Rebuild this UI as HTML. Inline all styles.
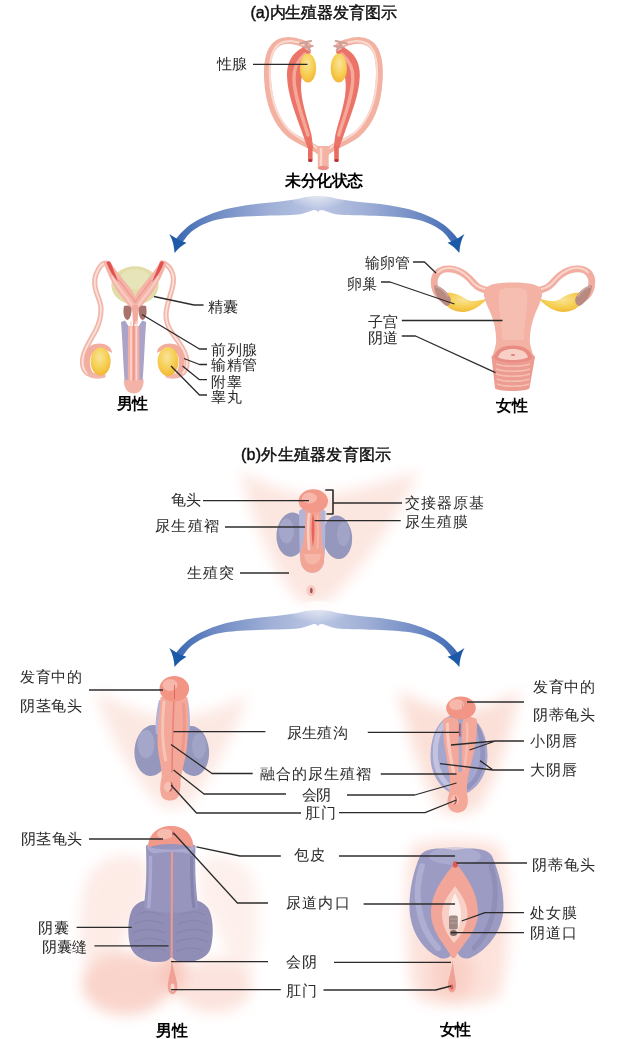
<!DOCTYPE html>
<html lang="zh">
<head>
<meta charset="utf-8">
<title>生殖器发育图示</title>
<style>
html,body{margin:0;padding:0;background:#fff;}
body{width:627px;height:1039px;overflow:hidden;font-family:"Liberation Sans",sans-serif;}
svg{display:block;}
text{font-family:"Liberation Sans",sans-serif;fill:#222;filter:url(#tx);}
.lb{font-size:14.5px;font-weight:300;fill:#2a2a2a;}
.tt{font-size:16px;font-weight:400;fill:#111;stroke:#111;stroke-width:0.45px;}
.bd{font-size:15.5px;font-weight:700;fill:#000;}
.ln{stroke:#2b2b2b;stroke-width:1.3;filter:url(#tx);fill:none;stroke-linejoin:round;}
</style>
</head>
<body>
<svg width="627" height="1039" viewBox="0 0 627 1039">
<defs>
  <filter id="soft" x="-5%" y="-5%" width="110%" height="110%"><feGaussianBlur stdDeviation="0.75"/></filter>
  <filter id="tx" filterUnits="userSpaceOnUse" x="0" y="0" width="627" height="1039"><feGaussianBlur stdDeviation="0.28"/></filter>
  <filter id="soft2" x="-10%" y="-10%" width="120%" height="120%"><feGaussianBlur stdDeviation="1.2"/></filter>
  <filter id="skin" x="-20%" y="-20%" width="140%" height="140%"><feGaussianBlur stdDeviation="7"/></filter>
  <radialGradient id="gYellow" cx="45%" cy="35%" r="65%">
    <stop offset="0" stop-color="#f9e39a"/><stop offset="0.6" stop-color="#f6cf52"/><stop offset="1" stop-color="#f2b838"/>
  </radialGradient>
  <linearGradient id="gArmL" x1="1" y1="0" x2="0" y2="0">
    <stop offset="0" stop-color="#bcc7e4"/><stop offset="0.35" stop-color="#9fafd6"/><stop offset="0.75" stop-color="#6b88c3"/><stop offset="1" stop-color="#3a68b2"/>
  </linearGradient>
  <linearGradient id="gArmR" x1="0" y1="0" x2="1" y2="0">
    <stop offset="0" stop-color="#d5dcee"/><stop offset="0.35" stop-color="#a9b8da"/><stop offset="0.8" stop-color="#6f8cc6"/><stop offset="1" stop-color="#3f6fb8"/>
  </linearGradient>
  <linearGradient id="gBump" x1="0" y1="0" x2="0" y2="1">
    <stop offset="0" stop-color="#ffffff"/><stop offset="0.45" stop-color="#dfe4f2"/><stop offset="1" stop-color="#a9b8da"/>
  </linearGradient>
  <!-- reusable brace arm (left), centre x=318 -->
  <radialGradient id="gFade" cx="0.5" cy="0.1" r="0.75">
    <stop offset="0" stop-color="#ffffff" stop-opacity="0.8"/><stop offset="0.45" stop-color="#ffffff" stop-opacity="0.45"/><stop offset="1" stop-color="#ffffff" stop-opacity="0"/>
  </radialGradient>
  <g id="arm">
    <path d="M319,196 C309,196 304,197 300,198.5 C288,201 276,202 265,203 C258,203.7 251,204.5 244.7,205.4 C239,206.3 234,207.3 228.8,208.6 C223,210 218,211.5 212.8,213.3 C207,215.5 202,217.7 196.9,220.5 C192.5,223 189,225.5 185.7,228.5 C182.5,231.3 179.5,234.5 176,239 L181.5,244 C184,240 186.5,236.5 189.5,233.5 C192.5,230.5 196,228.2 200,226 C204,223.9 208,222.3 212.8,220.8 C218,219.3 223,218.5 228.8,217.8 C234,217.2 239,216.8 244.7,216.5 C251,216.1 258,215.9 265,215.7 C277,215.5 290,215.3 298,214.5 C304,213.5 309,211.5 313,210.2 C315,209.8 317,210.6 319,212 Z" fill="url(#gArmL)"/>
    <path d="M169.3,234 C175,238 180.5,240.8 186.5,242.8 C181.8,245.6 178,248.8 174.5,253 C174.2,246 172.8,240 169.3,234 Z" fill="#1c5aa8"/>
  </g>
  <g id="braceArrow">
    <use href="#arm"/>
    <use href="#arm" transform="translate(318,0) scale(-0.985,1) translate(-318,0)"/>
    <ellipse cx="318" cy="200" rx="26" ry="13" fill="url(#gFade)"/>
  </g>
</defs>
<rect x="0" y="0" width="627" height="1039" fill="#ffffff"/>

<!-- ================= (a) undifferentiated internal ================= -->
<g id="undiffA" filter="url(#soft)">
  <g id="ductL">
    <!-- Mullerian (outer, pale) -->
    <path d="M308,46 C300,41.5 287,38 279,42.5 C269.5,47.5 266.5,61 267.5,79 C268.5,100 275,121 289.5,134 C299,141.5 311,145 319,151" fill="none" stroke="#f2b1a1" stroke-width="6.8" stroke-linecap="round"/>
    <path d="M305,45 C298,41.5 287,39 280,43.5 C271.5,48.5 269,62 270,79 C271,99 277.5,119 291,132 C299.5,139 310,143 317,148" fill="none" stroke="#f9d9d0" stroke-width="2.2" stroke-linecap="round"/>
    <!-- top fringe -->
    <path d="M300,43.5 L311,41 M303,47.5 L312.5,46 M305.5,44.5 L310,50.5 M307.5,42 L304,49.5" stroke="#cf9f98" stroke-width="2.2" stroke-linecap="round" fill="none"/>
    <!-- Wolffian (inner, red) -->
    <path d="M303,47.5 C293,52 286.5,62 287,76 C287.5,95 296,115 303,135 L307.5,148 L313.2,148 L311.5,135 C307,117 300.5,100 301,84 C302,70 306,59 311,52 Z" fill="#ec7367"/>
    <path d="M305,54 C298,60 293.5,68 294,79 C294.5,97 302,115 308,135" fill="none" stroke="#f5a898" stroke-width="3.4" stroke-linecap="round"/>
    <!-- small tube -->
    <path d="M310.3,146 L310.3,160" stroke="#ea6c60" stroke-width="4.6" stroke-linecap="butt"/>
    <ellipse cx="310.3" cy="160.5" rx="2.3" ry="1.5" fill="#b82c34"/>
    <!-- gonad -->
    <ellipse cx="308" cy="68" rx="8.2" ry="14.6" fill="url(#gYellow)"/>
  </g>
  <use href="#ductL" transform="translate(646.8,0) scale(-1,1)"/>
  <!-- stem -->
  <path d="M316.5,146 C318,150 318,160 317.8,168 L328.8,168 C328.6,160 328.6,150 330.2,146 Z" fill="#f4b4a4"/>
  <path d="M321,149 L321,166" stroke="#fad7cd" stroke-width="2.4" stroke-linecap="round"/>
  <ellipse cx="323.3" cy="168" rx="5.5" ry="2.2" fill="#e98f86"/>
</g>

<g filter="url(#soft)">
  <use href="#braceArrow"/>
</g>
<g class="ln"><path d="M253,64.3 L307.5,64.3"/></g>
<text class="tt" x="250.5" y="17.5" textLength="146" lengthAdjust="spacing">(a)内生殖器发育图示</text>
<text class="lb" x="217" y="68.5" textLength="29.5" lengthAdjust="spacing">性腺</text>
<text class="bd" x="285" y="186" textLength="78" lengthAdjust="spacing">未分化状态</text>

<!-- ================= (a) male internal ================= -->
<g id="maleA" filter="url(#soft)">
  <!-- vas deferens left -->
  <path id="vasL" d="M106,263 C103,263 100,266 98,270 C94,277 94,283 95.5,289 C97.5,297 101,302 101,309 C101,318 99,324 96,330 C92,338 86,346 83.5,355 C81.5,363 82.5,370 88,373.5 C92,376 98,376.5 103,375.5" fill="none" stroke="#f2b6aa" stroke-width="5.2" stroke-linecap="round"/>
  <path d="M106,263 C103,263 100,266 98,270 C94,277 94,283 95.5,289 C97.5,297 101,302 101,309 C101,318 99,324 96,330 C92,338 86,346 83.5,355 C81.5,363 82.5,370 88,373.5" fill="none" stroke="#fae0d9" stroke-width="1.8" stroke-linecap="round"/>
  <!-- vas deferens right -->
  <path d="M162,263 C166,264 169,266 171,270 C174,275 174,282 172,289 C170,297 166.5,305 166,314 C165.5,323 169,329 173.5,335 C178,341 183.5,348 186,356 C188,363 187.5,369 183,373 C179,376 173,376.5 168,375.5" fill="none" stroke="#f2b6aa" stroke-width="5.2" stroke-linecap="round"/>
  <path d="M162,263 C166,264 169,266 171,270 C174,275 174,282 172,289 C170,297 166.5,305 166,314 C165.5,323 169,329 173.5,335 C178,341 183.5,348 186,356 C188,363 187.5,369 183,373" fill="none" stroke="#fae0d9" stroke-width="1.8" stroke-linecap="round"/>
  <!-- epididymis -->
  <path d="M86,352 C88,345 96,342 104,344 C109,345.5 112,349 112,353 C106,349 97,349 92,354 C89,358 89,367 93,373 L88,374 C84,368 84,358 86,352 Z" fill="#f3ada0"/>
  <path d="M183,352 C181,345 173,342 165,344 C160,345.5 157,349 157,353 C163,349 172,349 177,354 C180,358 180,367 176,373 L181,374 C185,368 185,358 183,352 Z" fill="#f3ada0"/>
  <!-- testes -->
  <ellipse cx="100.6" cy="361.5" rx="10" ry="14" fill="url(#gYellow)"/>
  <ellipse cx="168" cy="361.5" rx="10.4" ry="14.4" fill="url(#gYellow)"/>
  <!-- bladder -->
  <ellipse cx="135" cy="285.4" rx="23.6" ry="19.2" fill="#e2dca8"/>
  <ellipse cx="135" cy="279" rx="15" ry="10" fill="#e9e6bd" opacity="0.8"/>
  <!-- seminal vesicles / ampulla (pink wings) -->
  <path d="M103.5,262 C106,260 109.5,260.5 111,263 C116,271 122,278 127,284 C131,289 134,293 135.3,297 C136.6,293 139.6,289 143.6,284 C148.6,278 154.6,271 159.6,263 C161,260.5 164.5,260 167,262 C164,272 158,284 152,293 C147,300 141,306 137.5,312 L133,312 C129.5,306 123.5,300 118.5,293 C112.5,284 106.5,272 103.5,262 Z" fill="#f4b4a9"/>
  <path d="M112,276 C116,284 122,292 127,298 C130,302 133,306 135.3,310 C137.6,306 140.6,302 143.6,298 C148.6,292 154.6,284 158.6,276" stroke="#f8cdc5" stroke-width="2.4" fill="none" opacity="0.9"/>
  <path d="M119,280 C124,287 130,294 135.3,302 C140.6,294 146.6,287 151.6,280" stroke="#ee9085" stroke-width="1.4" fill="none" opacity="0.7"/>
  <!-- red tops -->
  <path d="M106.5,262.5 C108,260.5 110,261 111,263.5 C113.5,270 116,276 118.5,282 C113.5,277 109,270 106.5,262.5 Z" fill="#e2514d"/>
  <path d="M164,262.5 C162.5,260.5 160.5,261 159.5,263.5 C157,270 154.5,276 152,282 C157,277 161.5,270 164,262.5 Z" fill="#e2514d"/>
  <!-- prostate -->
  <path d="M124,306 C128,304.5 131.5,306 131.5,310 C131.5,315 130,319 127.5,320 C124,319 122.5,313 124,306 Z" fill="#a8736c"/>
  <path d="M146,306 C142,304.5 138.5,306 138.5,310 C138.5,315 140,319 142.5,320 C146,319 147.5,313 146,306 Z" fill="#a8736c"/>
  <path d="M132,305 L138.5,305 L137.5,324 L133,324 Z" fill="#f3ab9f"/>
  <!-- penis -->
  <path d="M121,322 L125,320.5 L129,327 L129.5,380 L124.5,380 C123,360 122.5,340 121,322 Z" fill="#aba4c8"/>
  <path d="M146.2,322 L142.2,320.5 L138.2,327 L137.7,380 L142.7,380 C144.2,360 144.7,340 146.2,322 Z" fill="#aba4c8"/>
  <path d="M128,326 L139.2,326 L139.5,381 L127.7,381 Z" fill="#f3aea3"/>
  <path d="M131,322 L131,386 M136.4,322 L136.4,386" stroke="#fad8d1" stroke-width="1.6" stroke-linecap="round"/>
  <path d="M133.7,324 L133.7,388" stroke="#ee958a" stroke-width="1.4" stroke-linecap="round"/>
  <path d="M124,379 C123.5,384 125,389 128,391.5 C131,394 136.5,394 139.5,391.5 C142.5,389 144,384 143.5,379 C138,381 129.5,381 124,379 Z" fill="#f4b3a8"/>
</g>
<g class="ln">
  <path d="M154,296.5 L194,305 L203.5,305"/>
  <path d="M142,314.5 L199.5,349 L207,349"/>
  <path d="M184,358.5 L199.5,364.5 L207,364.5"/>
  <path d="M182.5,366 L199.5,379.7 L207,379.7"/>
  <path d="M171,366 L199.5,395 L207,395"/>
</g>
<text class="lb" x="207.5" y="311.5" textLength="30.5" lengthAdjust="spacing">精囊</text>
<text class="lb" x="211" y="355" textLength="46" lengthAdjust="spacing">前列腺</text>
<text class="lb" x="211" y="370.3" textLength="46" lengthAdjust="spacing">输精管</text>
<text class="lb" x="211" y="386.5" textLength="30.5" lengthAdjust="spacing">附睾</text>
<text class="lb" x="211" y="402" textLength="30.5" lengthAdjust="spacing">睾丸</text>
<text class="bd" x="117" y="409.3" textLength="31" lengthAdjust="spacing">男性</text>

<!-- ================= (a) female internal ================= -->
<g id="femaleA" filter="url(#soft)">
  <g id="tubeL">
    <!-- ovary -->
    <path d="M446,293 C452,292 460,295 466,299 C471,302 478,301.5 487,298.5 C483,304 476,309 469,311 C461,313.5 452,311 447,306 C445,302 445,297 446,293 Z" fill="url(#gYellow)"/>
    <!-- tube -->
    <path d="M489,290.5 C483,290 478,288 474,283.5 C470,278.5 464,272.5 456,270 C449,268 441,268.5 437,273.5 C433.5,278 433.5,285 436,291 C437.5,294.5 439.5,296.5 442,298" fill="none" stroke="#f2ada0" stroke-width="7" stroke-linecap="round"/>
    <path d="M488,289.5 C482,289 477,287 473,282.5 C469,277.5 463,271.5 455.5,269 C449,267 441.5,268 438,272.5" fill="none" stroke="#f9d5cc" stroke-width="2" stroke-linecap="round"/>
    <!-- fimbria brown -->
    <path d="M434,286 C437,284 446,290 450,297 C452,301 450,306 446.5,306 C441,303 435,296 434,286 Z" fill="#b98a82"/>
    <path d="M436,287 C439,286.5 445,291 448,296" stroke="#d3a69d" stroke-width="1.6" fill="none" stroke-linecap="round"/>
  </g>
  <use href="#tubeL" transform="translate(1026,0) scale(-1,1)"/>
  <!-- uterus -->
  <path d="M484,291 C486,284.5 496,282.5 513,282.5 C530,282.5 540,284.5 542,291 C543,297 539,305 535.5,313 C532,321 530,330 529.8,340 C529.8,346 532,351 534,357 L492,357 C494,351 496.2,346 496.2,340 C496,330 494,321 490.5,313 C487,305 483,297 484,291 Z" fill="#f4b2a4"/>
  <path d="M500,290 C506,287 520,287 526,290 C530,300 524,320 524,340 L502,340 C502,320 496,300 500,290 Z" fill="#f8c9be" opacity="0.5"/>
  <!-- vagina -->
  <path d="M491.5,357 C491.5,351 535,351 535,357 L529.5,388 C529.5,392 495,392 495,388 Z" fill="#ec9c90"/>
  <path d="M496,364 C505,367 521,367 530,364 M496,369 C505,372 521,372 530,369 M496,374 C505,377 521,377 530,374 M496.5,379 C505,382 521,382 529.5,379 M497,384 C505,387 521,387 529,384" stroke="#f6bfb4" stroke-width="1.4" fill="none"/>
  <!-- cervix -->
  <path d="M494,358 C495,349 503,345.5 513,345.5 C523,345.5 531,349 532,358 C528,364 498,364 494,358 Z" fill="#e88c84"/>
  <path d="M498,357 C500,351 506,349 513,349 C520,349 526,351 528,357 C524,361 502,361 498,357 Z" fill="#f9d0c6"/>
  <ellipse cx="513" cy="355" rx="2.2" ry="1.1" fill="#d88078"/>
</g>
<g class="ln">
  <path d="M413,262 L424.5,262 L436,273"/>
  <path d="M381,282 L390,282 L454.5,304"/>
  <path d="M401.8,320.5 L502.5,320.5"/>
  <path d="M401.8,336 L415.5,336 L495.5,372.7"/>
</g>
<text class="lb" x="365" y="268" textLength="44.5" lengthAdjust="spacing">输卵管</text>
<text class="lb" x="347" y="288.5" textLength="30" lengthAdjust="spacing">卵巢</text>
<text class="lb" x="367.5" y="326.5" textLength="30" lengthAdjust="spacing">子宫</text>
<text class="lb" x="367.5" y="342.5" textLength="30" lengthAdjust="spacing">阴道</text>
<text class="bd" x="496" y="410.5" textLength="31.5" lengthAdjust="spacing">女性</text>

<!-- ================= (b) undifferentiated external ================= -->
<g filter="url(#skin)">
  <path d="M240,470 C262,484 290,494 313,496 C340,494 384,484 418,470 C400,520 356,575 332,598 C324,606 304,606 297,598 C275,575 252,520 240,470 Z" fill="#fce6e0"/>
</g>
<g id="undiffB" filter="url(#soft)">
  <!-- swellings -->
  <ellipse cx="291.5" cy="534.6" rx="15" ry="22.2" fill="#9597bd" transform="rotate(5 291.5 534.6)"/>
  <ellipse cx="337.5" cy="537.3" rx="14.6" ry="21.8" fill="#9597bd" transform="rotate(-5 337.5 537.3)"/>
  <ellipse cx="286.5" cy="531" rx="7.5" ry="12.5" fill="#b0b2d2" opacity="0.6"/>
  <ellipse cx="343.5" cy="534" rx="6.5" ry="12" fill="#adafd0" opacity="0.55"/>
  <g>
  <!-- folds -->
  <path d="M299,512 C299,506 325.5,506 325.5,512 L325,548 C325,552 324.5,556 324,560 C323.5,577 301.5,577 300.5,560 C300,556 299.5,552 299.5,548 Z" fill="#b4b5d6"/>
  <path d="M306,508 L320.5,508 C321,520 321.3,535 322.3,545 C324.2,550 324.3,556 324,560 C323.5,577 301.5,577 300.5,560 C300.2,556 300.3,550 302.7,545 C304.8,535 305.5,520 306,508 Z" fill="#f3a495"/>
  <path d="M309,514 C307.8,524 308,538 309,549" stroke="#f9d0c6" stroke-width="2.6" fill="none" stroke-linecap="round"/>
  <path d="M313,513 C311,523 311.3,537 313,547 C314.8,537 315.2,523 313,513 Z" fill="#e6645b"/>
  <path d="M317.5,516 C318.3,526 318.3,538 317.5,548" stroke="#f6b6aa" stroke-width="1.8" fill="none" stroke-linecap="round"/>
  <path d="M304,554 C305,568 320,568 321,554 Z" fill="#f6bbae" opacity="0.8"/>
  <!-- glans -->
  <ellipse cx="313.3" cy="501" rx="14.7" ry="11.8" fill="#f2998a"/>
  <ellipse cx="309.5" cy="498" rx="7.5" ry="5.4" fill="#f8bdb0" opacity="0.85"/>
  </g>
  <!-- anus -->
  <ellipse cx="311" cy="590.5" rx="4.6" ry="5.6" fill="#f6cdc4"/>
  <ellipse cx="311.3" cy="590.5" rx="1.4" ry="2.8" fill="#a8505a"/>
</g>
<g class="ln">
  <path d="M203,500.7 L309,500.7"/>
  <path d="M225,527 L305,527"/>
  <path d="M240,573 L289,573"/>
  <path d="M325.3,490 L333,490 L333,514 L326.5,514" stroke-width="1.6"/>
  <path d="M333,503 L402,503"/>
  <path d="M314.5,520.6 L400.7,520.6"/>
</g>
<text class="tt" x="241" y="459.5" textLength="150" lengthAdjust="spacing">(b)外生殖器发育图示</text>
<text class="lb" x="171" y="504.5" textLength="29.5" lengthAdjust="spacing">龟头</text>
<text class="lb" x="155" y="531.3" textLength="64" lengthAdjust="spacing">尿生殖褶</text>
<text class="lb" x="187" y="578" textLength="46.5" lengthAdjust="spacing">生殖突</text>
<text class="lb" x="405" y="507.5" textLength="78.5" lengthAdjust="spacing">交接器原基</text>
<text class="lb" x="405" y="526.5" textLength="62.5" lengthAdjust="spacing">尿生殖膜</text>
<g filter="url(#soft)">
  <use href="#braceArrow" transform="translate(0,414)"/>
</g>

<!-- ================= (b) mid stage ================= -->
<g filter="url(#skin)">
  <path d="M95,690 C120,706 150,716 173,718 C198,716 226,708 247,694 C238,730 210,780 190,802 C182,810 164,810 157,802 C135,780 105,730 95,690 Z" fill="#fce8e2"/>
  <path d="M398,690 C420,702 440,710 459,712 C480,710 500,702 520,690 C512,730 496,780 480,806 C472,816 446,816 438,806 C422,780 406,730 398,690 Z" fill="#fbe0d8"/>
</g>
<g id="midM" filter="url(#soft)">
  <ellipse cx="152" cy="750.5" rx="17.5" ry="25.5" fill="#9597bd" transform="rotate(5 152 750.5)"/>
  <ellipse cx="192.5" cy="751" rx="16.5" ry="25" fill="#9597bd" transform="rotate(-5 192.5 751)"/>
  <ellipse cx="146" cy="744" rx="8.5" ry="14" fill="#b0b2d2" opacity="0.6"/>
  <ellipse cx="199" cy="746" rx="7" ry="13" fill="#adafd0" opacity="0.55"/>
  <!-- lavender side strips -->
  <path d="M159,700 C156,712 155,724 156,734 L162,734 L163,700 Z" fill="#b7b5d6"/>
  <path d="M188,700 C190,712 190.5,722 189.5,732 L184,732 L184,700 Z" fill="#b7b5d6"/>
  <!-- shaft -->
  <path d="M160.5,698 C160.5,694 187.5,694 187.5,698 C188.5,715 188.5,735 186.5,750 C185,762 181.5,772 180.5,780 C181,786 180,792 178.5,796 C176,802 164,802 161.5,796 C159.5,790 160,784 161.5,778 C162.5,770 159,760 157.8,748 C156.5,735 159.5,715 160.5,698 Z" fill="#f3a899"/>
  <path d="M164,702 C162,720 162,742 165.5,760" stroke="#f8cabf" stroke-width="3" fill="none" stroke-linecap="round" opacity="0.8"/>
  <path d="M183.5,704 C185,720 184.5,738 182,752" stroke="#ee8d80" stroke-width="3" fill="none" stroke-linecap="round" opacity="0.6"/>
  <path d="M174,700 C173,720 172.5,745 172,772" stroke="#ea8378" stroke-width="1.6" fill="none" stroke-linecap="round"/>
  <!-- glans -->
  <ellipse cx="174.3" cy="688.8" rx="14.8" ry="12.8" fill="#f29585"/>
  <ellipse cx="170" cy="685" rx="7.5" ry="6" fill="#f8bdb0" opacity="0.85"/>
  <path d="M174.5,685 L174.5,699" stroke="#d9685e" stroke-width="1"/>
  <!-- anus bulb -->
  <ellipse cx="170" cy="789" rx="9.5" ry="10.5" fill="#f3a899"/>
  <ellipse cx="168" cy="787" rx="4" ry="5" fill="#f8cabf" opacity="0.7"/>
  <path d="M171.5,783 C173,786 172,790 170,791" stroke="#c9605e" stroke-width="1.6" fill="none" stroke-linecap="round"/>
</g>
<g id="midF" filter="url(#soft)">
  <!-- swellings (outer lavender) -->
  <path d="M459,714 C440,714 430.5,734 430.5,756 C430.5,776 442,792 459,796 C476,792 487.5,776 487.5,756 C487.5,734 478,714 459,714 Z" fill="#a5a6cd"/>
  <path d="M446,722 C437,730 434.5,745 435.5,758 C436.5,771 443,782 451,788" stroke="#c6c7e3" stroke-width="5" fill="none" stroke-linecap="round" opacity="0.9"/>
  <path d="M473,722 C481,730 483.5,745 482.5,758 C481.5,771 476,781 468,787" stroke="#9091bd" stroke-width="4.5" fill="none" stroke-linecap="round" opacity="0.9"/>
  <!-- groove between folds -->
  <path d="M456,722 L463,722 L461.5,776 L457.5,776 Z" fill="#a9a9cc"/>
  <!-- folds -->
  <path d="M443.5,720 C444,716 458,716 458.5,722 C458.5,738 459,756 458.5,772 L462,772 C461.5,756 462,738 462.5,722 C463,716 476,716 476.8,720 C478,736 474,754 470,768 C467.5,778 466.5,786 467,794 C468.5,800 468,806 465.5,809 C462.5,813.5 452.5,813.5 449.5,809 C446.8,805 447,799 449,794 C450.5,786 450,778 448.5,768 C446,754 442,736 443.5,720 Z" fill="#f3a899"/>
  <path d="M447.5,724 C447,740 450,756 453.5,772" stroke="#f9cfc5" stroke-width="3.2" fill="none" stroke-linecap="round" opacity="0.85"/>
  <path d="M467,724 C468,740 466.5,754 464.5,768" stroke="#f7c1b6" stroke-width="2.6" fill="none" stroke-linecap="round" opacity="0.8"/>
  <path d="M460,724 C459.6,728 459.6,732 460,736" stroke="#b8585a" stroke-width="1.6" fill="none" stroke-linecap="round"/>
  <!-- glans -->
  <ellipse cx="461" cy="708" rx="14.8" ry="11.4" fill="#f29585"/>
  <ellipse cx="456.5" cy="704.5" rx="7.5" ry="5.5" fill="#f8bdb0" opacity="0.85"/>
  <path d="M462.5,703 L462.5,716" stroke="#e79a8e" stroke-width="1"/>
  <!-- anus bulb -->
  <ellipse cx="457.5" cy="802" rx="9.8" ry="10.5" fill="#f3a899"/>
  <ellipse cx="455" cy="800" rx="4" ry="5" fill="#f8cabf" opacity="0.7"/>
  <path d="M455.5,797 C457,800 456,803 454.5,804" stroke="#c9605e" stroke-width="1.5" fill="none" stroke-linecap="round"/>
</g>
<g class="ln">
  <path d="M89,690 L163,690"/>
  <path d="M173.5,731.7 L265.4,731.7"/>
  <path d="M171,744.5 L212,773.5 L252.7,773.5"/>
  <path d="M173.5,770 L204,794 L286,794"/>
  <path d="M171,785 L196.5,813 L301,813"/>
  <path d="M467,702 L524,702"/>
  <path d="M451,745 L495.6,741 L524,741 M469.5,750 L495.6,741"/>
  <path d="M440,763.7 L493,770 L524,770 M480,760.6 L493,770"/>
  <path d="M367.8,732.4 L459,732.4"/>
  <path d="M380.8,774 L456.5,774"/>
  <path d="M347,795 L414.7,795 L456.5,783"/>
  <path d="M339,812.7 L425,812.7 L456.5,800"/>
</g>
<text class="lb" x="20" y="682" textLength="62" lengthAdjust="spacing">发育中的</text>
<text class="lb" x="20" y="710.5" textLength="62" lengthAdjust="spacing">阴茎龟头</text>
<text class="lb" x="286.5" y="738" textLength="61" lengthAdjust="spacing">尿生殖沟</text>
<text class="lb" x="260" y="779" textLength="111" lengthAdjust="spacing">融合的尿生殖褶</text>
<text class="lb" x="302" y="800" textLength="29" lengthAdjust="spacing">会阴</text>
<text class="lb" x="305" y="818" textLength="31" lengthAdjust="spacing">肛门</text>
<text class="lb" x="533" y="692" textLength="62" lengthAdjust="spacing">发育中的</text>
<text class="lb" x="533" y="720" textLength="62" lengthAdjust="spacing">阴蒂龟头</text>
<text class="lb" x="529.5" y="746" textLength="47" lengthAdjust="spacing">小阴唇</text>
<text class="lb" x="529.5" y="774.5" textLength="47" lengthAdjust="spacing">大阴唇</text>

<!-- ================= (b) final stage ================= -->
<g filter="url(#skin)">
  <!-- male: faint thighs -->
  <path d="M92,870 C110,852 140,850 150,866 L148,905 C136,915 124,935 120,955 L100,1000 C80,980 72,900 92,870 Z" fill="#fdebe6"/>
  <path d="M250,872 C236,854 208,850 198,866 L200,905 C212,915 222,935 226,955 L240,996 C258,978 266,900 250,872 Z" fill="#fdf0ec"/>
  <!-- male: buttocks -->
  <ellipse cx="126" cy="984" rx="44" ry="31" fill="#f9d4cb"/>
  <ellipse cx="214" cy="986" rx="38" ry="27" fill="#fce3dd"/>
  <ellipse cx="172" cy="972" rx="14" ry="22" fill="#f8c9bf"/>
  <!-- female -->
  <path d="M412,846 C424,838 488,838 500,846 C510,880 512,950 500,996 C482,1008 428,1008 414,996 C404,950 404,880 412,846 Z" fill="#fce2db"/>
  <ellipse cx="452" cy="975" rx="22" ry="26" fill="#f9d0c6"/>
</g>
<g id="finM" filter="url(#soft)">
  <!-- scrotum -->
  <path d="M171,904 C158,897 140,898 133,908 C127,917 127,940 132,950 C138,961 156,964 166,961 C169,960 170.5,958 171.5,956 C172.5,958 174,960 177,961 C187,964 205,961 210,950 C214,940 214,917 208,908 C201,898 184,897 171,904 Z" fill="#908eb6"/>
  <path d="M137,915 C144,911 153,911 161,915 M134,924 C143,919.5 154,919.5 164,924 M133,933 C142,928.5 154,928.5 165,933 M134,942 C143,937.5 155,937.5 166,942 M139,951 C146,947 157,947 166,951" stroke="#7f7da8" stroke-width="1.1" fill="none" opacity="0.55"/>
  <path d="M205,915 C198,911 189,911 181,915 M208,924 C199,919.5 188,919.5 178,924 M209,933 C200,928.5 188,928.5 177,933 M208,942 C199,937.5 187,937.5 176,942 M203,951 C196,947 185,947 176,951" stroke="#7f7da8" stroke-width="1.1" fill="none" opacity="0.55"/>
  <!-- shaft -->
  <path d="M146,846 C146,842 195.5,842 195.5,846 C195,866 195,886 198.5,908 C190,914 152,914 143.5,908 C147,886 146.5,866 146,846 Z" fill="#9795be"/>
  <path d="M150.5,856 C150.5,878 150,896 148.5,908" stroke="#adabd0" stroke-width="3.4" fill="none" opacity="0.9"/>
  <path d="M191.5,856 C191.5,878 192,896 194,908" stroke="#8381ac" stroke-width="3" fill="none" opacity="0.9"/>
  <!-- raphe -->
  <path d="M172,850 C171.8,890 171.6,930 171.6,958" stroke="#e59a94" stroke-width="2.2" fill="none"/>
  <!-- glans -->
  <path d="M148,848 C148,834 158,826 171,826 C184,826 193.5,834 193.5,848 C187,845 180,844 171,844 C162,844 154,845 148,848 Z" fill="#f19a8c"/>
  <ellipse cx="165" cy="834" rx="8" ry="5" fill="#f7c0b4" opacity="0.9"/>
  <path d="M146.5,846 C147.5,850 151,853 155,853.5 C162,851.5 180,851.5 187,853.5 C191,853 194.5,850 195.5,846 C190,848.5 181,849.5 171,849.5 C161,849.5 152,848.5 146.5,846 Z" fill="#aba9cf"/>
  <ellipse cx="173" cy="833.5" rx="0.9" ry="2" fill="#c8544f"/>
  <!-- anus -->
  <path d="M172,960 C171,972 167.5,981 167.8,987 C168.3,996.5 177,996.5 177.4,987 C177.6,981 173.5,972 172,960 Z" fill="#f0a095"/>
  <ellipse cx="172.6" cy="987.5" rx="2" ry="4" fill="#f9d6ce"/>
</g>
<g id="finF" filter="url(#soft)">
  <!-- labia majora -->
  <path d="M455,850 C440,847 424,848 420,856 C414,870 409,890 409.5,908 C410,930 422,950 440,958 C448,960 452,956 454,949 L456,949 C458,956 462,960 470,958 C488,950 503,930 503.5,908 C504,890 498,870 492,856 C488,848 470,847 455,850 Z" fill="#9b9bc4"/>
  <path d="M422,866 C414,890 416,925 438,948" stroke="#b3b3d7" stroke-width="6" fill="none" stroke-linecap="round" opacity="0.8"/>
  <path d="M491,866 C499,890 497,925 474,948" stroke="#8a8ab6" stroke-width="5" fill="none" stroke-linecap="round" opacity="0.7"/>
  <ellipse cx="455" cy="856" rx="26" ry="9" fill="#b7b7d8" opacity="0.55"/>
  <!-- labia minora -->
  <path d="M455.3,862 C447,874 431,890 431,913 C431,932 445,944 452,958 L455,958 C462,944 478,932 478,913 C478,890 464,874 455.3,862 Z" fill="#f2a699"/>
  <path d="M455,886 C450,893 442,902 442,914 C442,926 448,936 454,943 C461,936 467.5,926 467.5,914 C467.5,902 460,893 455,886 Z" fill="#f9d0c6"/>
  <path d="M455,893 C452.5,899 449,905 449,914 C449,923 451.5,930 454.5,936 C458,930 461,923 461,914 C461,905 457.5,899 455,893 Z" fill="#fdf0ec"/>
  <rect x="449" y="915.5" width="8.8" height="14" rx="2" fill="#a08882"/>
  <path d="M450,919 L457,919 M450,923 L457,923" stroke="#c0aaa4" stroke-width="0.8"/>
  <ellipse cx="453.5" cy="933" rx="3.6" ry="3" fill="#7f6866"/>
  <!-- clitoris -->
  <ellipse cx="455.3" cy="864.5" rx="2.6" ry="3.2" fill="#df5a52"/>
  <!-- anus -->
  <path d="M452.7,960 C451.8,972 447.5,981 447.8,986 C448.3,994.5 455.5,994.5 456,986 C456.3,981 453.6,972 452.7,960 Z" fill="#f0a095"/>
  <ellipse cx="451.8" cy="987" rx="1.6" ry="2.8" fill="#d9645e"/>
</g>
<g class="ln">
  <path d="M89,839 L163,839"/>
  <path d="M76.6,927.4 L131.7,927.4"/>
  <path d="M94.4,945.8 L168.5,945.8"/>
  <path d="M196.5,846.8 L240,856 L280.8,856"/>
  <path d="M173.5,833 L237.4,903 L268,903"/>
  <path d="M171,961.6 L268,961.6"/>
  <path d="M171,989.7 L280.8,989.7"/>
  <path d="M456.5,863 L527,863"/>
  <path d="M461.7,921 L485,912.7 L524,912.7"/>
  <path d="M451,932.6 L524,932.6"/>
  <path d="M339,856 L455,856"/>
  <path d="M363.6,904 L455,904"/>
  <path d="M334,962.3 L451,962.3"/>
  <path d="M323.5,990 L435.6,990 L451,986"/>
</g>
<text class="lb" x="21" y="844" textLength="61" lengthAdjust="spacing">阴茎龟头</text>
<text class="lb" x="38" y="933" textLength="31" lengthAdjust="spacing">阴囊</text>
<text class="lb" x="42" y="951.5" textLength="45" lengthAdjust="spacing">阴囊缝</text>
<text class="lb" x="293.5" y="859.8" textLength="31.5" lengthAdjust="spacing">包皮</text>
<text class="lb" x="286" y="907.5" textLength="63.5" lengthAdjust="spacing">尿道内口</text>
<text class="lb" x="286" y="966.8" textLength="30.5" lengthAdjust="spacing">会阴</text>
<text class="lb" x="286" y="995.5" textLength="30.5" lengthAdjust="spacing">肛门</text>
<text class="lb" x="532" y="869.5" textLength="62.5" lengthAdjust="spacing">阴蒂龟头</text>
<text class="lb" x="529.5" y="918" textLength="47" lengthAdjust="spacing">处女膜</text>
<text class="lb" x="529.5" y="937.5" textLength="47" lengthAdjust="spacing">阴道口</text>
<text class="bd" x="155.5" y="1035.5" textLength="32" lengthAdjust="spacing">男性</text>
<text class="bd" x="440" y="1035" textLength="31" lengthAdjust="spacing">女性</text>

</svg>
</body>
</html>
